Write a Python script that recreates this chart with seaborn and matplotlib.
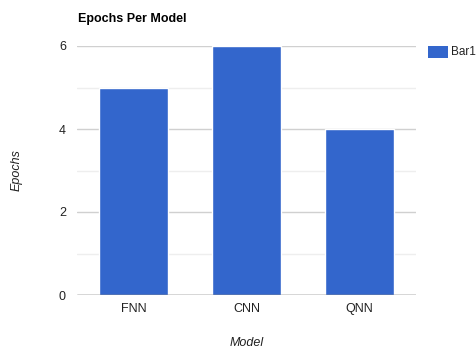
import matplotlib
matplotlib.use("Agg")
import matplotlib.pyplot as plt
import seaborn as sns
import pandas as pd
from matplotlib.patches import Rectangle

models = ["FNN", "CNN", "QNN"]
epochs = [5, 6, 4]
series_name = "Bar1"

df = pd.DataFrame({"Model": models, "Epochs": epochs})

sns.set_theme(style="white")
plt.rcParams["font.family"] = ["Liberation Sans", "DejaVu Sans"]

W, H = 477, 349
fig = plt.figure(figsize=(W / 100, H / 100), dpi=100)
left, right, top, bottom = 77, 416, 46, 295
ax = fig.add_axes([left / W, 1 - bottom / H, (right - left) / W, (bottom - top) / H])

sns.barplot(data=df, x="Model", y="Epochs", color="#3366CC", width=0.61,
            saturation=1, ax=ax, zorder=3)

ax.set_ylim(0, 6)
ax.set_xlim(-0.5, 2.5)
for v in [1, 3, 5]:
    ax.axhline(v, color="#EEEEEE", lw=1, zorder=1)
for v in [2, 4, 6]:
    ax.axhline(v, color="#D0D0D0", lw=1, zorder=1)
ax.axhline(0, color="#333333", lw=1, zorder=4)

ax.set_yticks([0, 2, 4, 6])
ax.tick_params(axis="both", length=0, labelsize=9, colors="#222222")
ax.tick_params(axis="y", pad=8)
ax.tick_params(axis="x", pad=6)
for s in ax.spines.values():
    s.set_visible(False)
ax.set_xlabel("")
ax.set_ylabel("")

fig.text(247 / W, 1 - 343 / H, "Model", fontstyle="italic", fontsize=9,
         color="#222222", ha="center", va="center")
fig.text(17 / W, 1 - 170 / H, "Epochs", fontstyle="italic", fontsize=9,
         color="#222222", ha="center", va="center", rotation=90)

fig.text(78 / W, 1 - 19 / H, "Epochs Per Model", fontsize=9, fontweight="bold",
         color="#000000", va="center", ha="left")

# legend swatch and label
fig.patches.append(Rectangle((428 / W, 1 - 58 / H), 20 / W, 12 / H,
                             transform=fig.transFigure, facecolor="#3366CC",
                             edgecolor="none"))
fig.text(451 / W, 1 - 52 / H, series_name, fontsize=8.5, color="#222222",
         ha="left", va="center")

fig.savefig("out.png", dpi=100)
